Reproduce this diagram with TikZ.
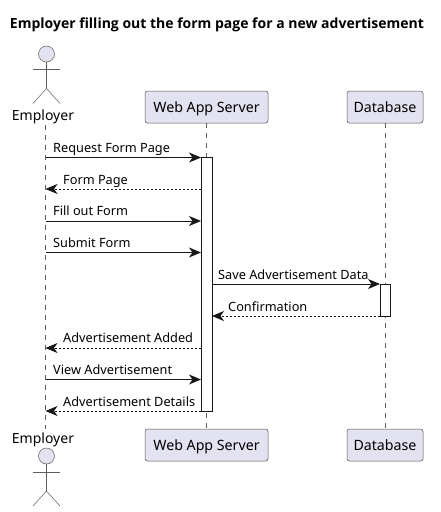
\documentclass[tikz,border=0pt]{standalone}
\usepackage{fontspec}
\setmainfont{Noto Sans}
\newfontfamily\titlefont{Open Sans}
\usetikzlibrary{arrows.meta}
\definecolor{pbg}{HTML}{E2E2F0}
\definecolor{pln}{HTML}{181818}
\tikzset{
  participantbox/.style={draw=pln!75,line width=0.5pt,fill=pbg,rounded corners=2.5pt,minimum height=32pt,inner sep=0pt,font=\fontsize{14.2}{16}\selectfont,text=black,text height=12.5pt,text depth=1.5pt},
  lifeline/.style={draw=pln!70,line width=0.4pt,dash pattern=on 5pt off 5pt},
  actv/.style={draw=pln,line width=1pt,fill=white,inner sep=0pt},
  actorpart/.style={draw=pln!70,line width=0.5pt},
  actorhead/.style={actorpart,fill=pbg,circle,minimum size=16pt,inner sep=0pt},
  actorname/.style={font=\fontsize{14}{16}\selectfont,inner sep=0pt,text=black},
  msg/.style={draw=pln,line width=1pt,-{Stealth[length=12pt,width=10pt,inset=3.5pt]}},
  reply/.style={msg,dash pattern=on 2pt off 2pt},
  msglabel/.style={font=\fontsize{12.75}{15}\selectfont,inner sep=0pt,anchor=base west,text=black},
}
\begin{document}
\begin{tikzpicture}[x=1pt,y=-1pt]
\useasboundingbox (0,0) rectangle (441,512);
\fill[white] (0,0) rectangle (441,512);
\node[font=\titlefont\bfseries\fontsize{14}{16}\selectfont,inner sep=0pt,text=black] (title) at (217,25) {Employer filling out the form page for a new advertisement};
% participants
\node[actorname] (empT) at (43,116.5) {Employer};
\node[actorname] (empB) at (43,439.5) {Employer};
\node[participantbox,minimum width=123pt] (webT) at (206.5,107) {Web App Server};
\node[participantbox,minimum width=123pt] (webB) at (206.5,445) {Web App Server};
\node[participantbox,minimum width=76pt] (dbT) at (385,107) {Database};
\node[participantbox,minimum width=76pt] (dbB) at (385,445) {Database};
% lifelines
\coordinate (eT) at (45.5,124.5);
\coordinate (eB) at (45.5,429);
\draw[lifeline] (eT) -- (eB);
\draw[lifeline] (webT.south) -- (webB.north);
\draw[lifeline] (dbT.south) -- (dbB.north);
% activations
\node[actv,minimum width=11pt,minimum height=254pt] (actW) at (206.5,284) {};
\node[actv,minimum width=10pt,minimum height=32pt] (actD) at (385,300) {};
% actors
\node[actorhead] (headT) at (46.5,54) {};
\coordinate (hipT) at (46.5,88.5);
\coordinate (armLT) at (33,69.5);
\coordinate (armRT) at (60,69.5);
\coordinate (footLT) at (33,103.5);
\coordinate (footRT) at (60,103.5);
\draw[actorpart] (headT.south) -- (hipT);
\draw[actorpart] (armLT) -- (armRT);
\draw[actorpart] (footLT) -- (hipT) -- (footRT);
\node[actorhead] (headB) at (46.5,456) {};
\coordinate (hipB) at (46.5,491);
\coordinate (armLB) at (33,472);
\coordinate (armRB) at (60,472);
\coordinate (footLB) at (33,506);
\coordinate (footRB) at (60,506);
\draw[actorpart] (headB.south) -- (hipB);
\draw[actorpart] (armLB) -- (armRB);
\draw[actorpart] (footLB) -- (hipB) -- (footRB);
% messages
\foreach \n/\y in {1/157.5,2/189,3/221,4/252.5,5/284,6/316,7/348,8/379.5,9/411}{
  \coordinate (e\n) at (45.5,\y);
  \coordinate (w\n) at (201,\y);
  \coordinate (v\n) at (212,\y);
  \coordinate (d\n) at (380,\y);
}
\draw[msg] (e1) -- (w1);
\draw[reply] (w2) -- (e2);
\draw[msg] (e3) -- (w3);
\draw[msg] (e4) -- (w4);
\draw[msg] (v5) -- (d5);
\draw[reply] (d6) -- (v6);
\draw[reply] (w7) -- (e7);
\draw[msg] (e8) -- (w8);
\draw[reply] (w9) -- (e9);
% labels
\node[msglabel] (m1) at (53,152) {Request Form Page};
\node[msglabel] (m2) at (63,184) {Form Page};
\node[msglabel] (m3) at (53,215.5) {Fill out Form};
\node[msglabel] (m4) at (53,247) {Submit Form};
\node[msglabel] (m5) at (218,279) {Save Advertisement Data};
\node[msglabel] (m6) at (228,311) {Confirmation};
\node[msglabel] (m7) at (63,342.5) {Advertisement Added};
\node[msglabel] (m8) at (53,374) {View Advertisement};
\node[msglabel] (m9) at (63,406) {Advertisement Details};
\end{tikzpicture}
\end{document}
